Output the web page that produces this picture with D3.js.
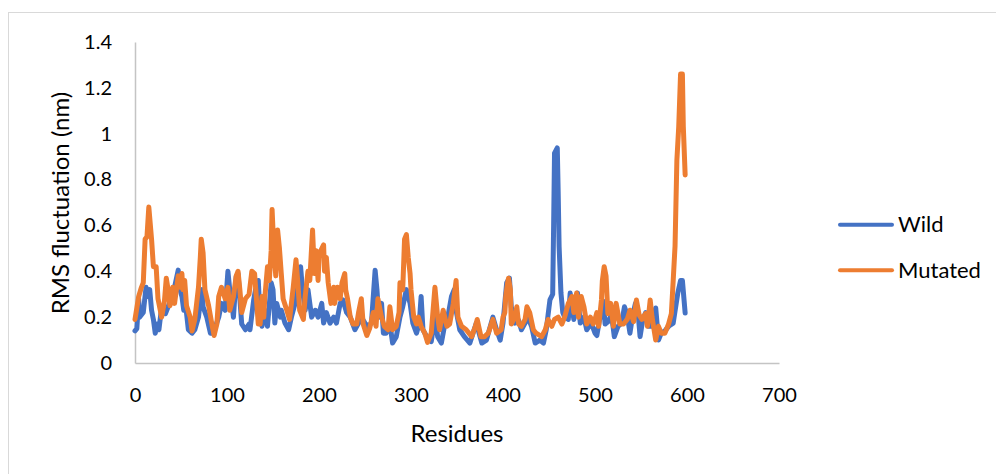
<!DOCTYPE html>
<html>
<head>
<meta charset="utf-8">
<script src="https://cdn.jsdelivr.net/npm/d3@7"></script>
<style>
  html, body { margin: 0; padding: 0; background: #ffffff; }
  svg { display: block; }
  text { font-family: Lato, "Open Sans", sans-serif; fill: #000; }
</style>
</head>
<body>
<svg id="chart" width="996" height="474"></svg>
<script>
// Per-residue RMS fluctuation (nm) of the wild-type and mutated protein
const wildResidues = [0,2,4,5,9,12,14,16,18,20,22,24,26,29,33,36,40,43,47,49,51,53,54,58,62,65,69,71,73,74,78,82,85,91,94,98,101,103,105,107,109,110,112,116,120,124,125,129,131,134,136,138,141,144,148,150,152,154,156,158,159,163,167,170,174,176,178,180,182,185,188,192,196,199,203,205,208,212,216,219,223,226,230,234,239,243,246,250,253,257,261,263,265,268,270,273,277,280,284,288,291,295,299,302,306,309,311,313,317,322,326,329,333,337,340,344,347,349,353,358,364,371,377,382,389,393,397,400,404,407,409,413,417,420,424,427,431,435,440,444,447,451,454,455,456,459,460,461,463,465,467,471,473,477,481,484,488,491,496,500,502,505,507,509,511,514,518,521,525,529,532,535,538,541,544,547,549,552,555,558,562,566,569,572,576,580,585,590,593,595,598];
const wildRMSF = [0.14,0.15,0.28,0.20,0.22,0.33,0.29,0.32,0.23,0.19,0.13,0.17,0.145,0.245,0.215,0.245,0.29,0.33,0.405,0.32,0.29,0.23,0.29,0.145,0.13,0.145,0.20,0.275,0.32,0.245,0.20,0.13,0.13,0.20,0.26,0.23,0.40,0.32,0.275,0.20,0.32,0.376,0.39,0.17,0.145,0.17,0.145,0.275,0.32,0.36,0.20,0.16,0.23,0.16,0.35,0.32,0.174,0.26,0.23,0.20,0.23,0.174,0.145,0.20,0.26,0.32,0.36,0.42,0.32,0.23,0.32,0.20,0.23,0.20,0.26,0.174,0.22,0.174,0.20,0.174,0.26,0.275,0.22,0.20,0.145,0.174,0.20,0.174,0.16,0.174,0.405,0.32,0.20,0.26,0.13,0.13,0.174,0.087,0.115,0.20,0.245,0.32,0.26,0.174,0.13,0.174,0.29,0.145,0.115,0.093,0.20,0.115,0.087,0.174,0.20,0.29,0.32,0.23,0.145,0.115,0.087,0.174,0.087,0.10,0.20,0.145,0.10,0.174,0.35,0.37,0.245,0.174,0.186,0.145,0.174,0.20,0.16,0.087,0.10,0.087,0.145,0.275,0.30,0.59,0.915,0.938,0.74,0.507,0.305,0.22,0.20,0.19,0.305,0.19,0.305,0.174,0.20,0.145,0.174,0.13,0.12,0.19,0.23,0.27,0.17,0.18,0.21,0.115,0.16,0.175,0.245,0.21,0.13,0.21,0.26,0.21,0.115,0.19,0.22,0.16,0.16,0.24,0.10,0.13,0.14,0.16,0.174,0.305,0.36,0.36,0.218];

const mutResidues = [0,4,7,9,11,13,15,18,20,23,25,29,32,34,36,38,41,43,47,49,51,52,54,56,60,62,65,69,71,72,74,76,80,84,86,89,91,94,98,101,103,107,110,112,114,116,120,124,127,130,132,134,136,138,140,141,144,146,148,149,151,153,155,157,159,161,165,168,172,175,177,179,183,185,188,190,193,195,197,199,200,202,205,206,208,210,213,216,217,220,223,225,228,229,231,234,237,241,243,246,248,252,255,259,262,264,268,271,275,277,280,284,287,288,291,293,295,297,299,300,303,306,308,311,315,318,322,326,329,331,335,339,342,346,349,351,355,360,366,370,372,376,380,384,389,393,398,400,402,403,405,406,408,409,413,415,417,420,424,426,429,433,436,442,446,449,453,456,460,464,467,471,475,477,480,482,485,488,491,495,498,500,502,504,507,508,510,512,514,517,520,523,527,531,535,538,542,545,548,551,555,557,560,562,566,569,572,576,580,583,585,587,589,591,593,595,596,598];
const mutRMSF = [0.19,0.29,0.33,0.35,0.54,0.55,0.68,0.54,0.42,0.42,0.28,0.20,0.27,0.37,0.32,0.25,0.33,0.26,0.38,0.33,0.39,0.32,0.36,0.25,0.20,0.14,0.19,0.33,0.46,0.54,0.48,0.32,0.25,0.16,0.12,0.17,0.29,0.33,0.28,0.33,0.23,0.29,0.38,0.40,0.32,0.22,0.28,0.30,0.40,0.39,0.28,0.17,0.17,0.29,0.20,0.28,0.42,0.36,0.49,0.67,0.49,0.38,0.58,0.50,0.39,0.28,0.23,0.19,0.33,0.45,0.35,0.23,0.19,0.29,0.40,0.36,0.58,0.39,0.49,0.36,0.46,0.49,0.515,0.40,0.46,0.35,0.26,0.33,0.26,0.33,0.28,0.35,0.39,0.32,0.28,0.20,0.17,0.17,0.22,0.28,0.17,0.12,0.15,0.22,0.16,0.28,0.20,0.16,0.145,0.245,0.145,0.16,0.22,0.35,0.32,0.54,0.56,0.46,0.39,0.32,0.20,0.17,0.20,0.16,0.13,0.09,0.13,0.33,0.20,0.145,0.23,0.16,0.17,0.26,0.36,0.20,0.16,0.145,0.115,0.16,0.19,0.115,0.115,0.13,0.19,0.13,0.145,0.20,0.22,0.29,0.35,0.37,0.32,0.17,0.20,0.245,0.17,0.16,0.19,0.245,0.22,0.145,0.13,0.115,0.145,0.19,0.16,0.19,0.20,0.17,0.20,0.26,0.29,0.22,0.305,0.20,0.29,0.245,0.17,0.20,0.17,0.19,0.22,0.16,0.275,0.36,0.42,0.38,0.215,0.26,0.16,0.26,0.17,0.17,0.19,0.23,0.18,0.275,0.21,0.19,0.215,0.16,0.275,0.20,0.10,0.16,0.13,0.13,0.17,0.215,0.36,0.51,0.885,1.03,1.26,1.26,1.03,0.82];

const xTicks = [0, 100, 200, 300, 400, 500, 600, 700];
const yTicks = [0, 0.2, 0.4, 0.6, 0.8, 1, 1.2, 1.4];
const seriesNames = ["Wild", "Mutated"];
const seriesColors = ["#4472C4", "#ED7D31"];

const svg = d3.select("#chart");

// chart-area frame
svg.append("rect")
  .attr("x", 8.5).attr("y", 12.5)
  .attr("width", 1000).attr("height", 480)
  .attr("fill", "#fff").attr("stroke", "#d9d9d9").attr("stroke-width", 1);

const x = d3.scaleLinear().domain([0, 700]).range([135, 779]);
const y = d3.scaleLinear().domain([0, 1.4]).range([363, 42]);

// y axis
const yAxis = svg.append("g").attr("transform", "translate(135,0)")
  .call(d3.axisLeft(y).tickValues(yTicks).tickSize(0).tickPadding(23)
    .tickFormat(d => String(+d.toFixed(1))));
yAxis.select(".domain").attr("stroke", "#c4c4c4").attr("stroke-width", 1.5);
yAxis.selectAll("text").attr("font-size", 20).attr("font-family", "Lato").attr("fill", "#000");

// x axis
const xAxis = svg.append("g").attr("transform", "translate(0,363)")
  .call(d3.axisBottom(x).tickValues(xTicks).tickSize(0).tickPadding(25)
    .tickFormat(d3.format("d")));
xAxis.select(".domain").attr("stroke", "#c4c4c4").attr("stroke-width", 1.5);
xAxis.selectAll("text").attr("font-size", 20).attr("font-family", "Lato").attr("fill", "#000");

// axis titles
svg.append("text")
  .attr("transform", "translate(69,203) rotate(-90)")
  .attr("text-anchor", "middle")
  .attr("font-size", 24)
  .text("RMS fluctuation (nm)");

svg.append("text")
  .attr("x", 457).attr("y", 442)
  .attr("text-anchor", "middle")
  .attr("font-size", 24)
  .text("Residues");

// series lines
const line = d3.line().x(d => x(d[0])).y(d => y(d[1]));
const series = [
  d3.zip(wildResidues, wildRMSF),
  d3.zip(mutResidues, mutRMSF)
];
series.forEach((pts, i) => {
  svg.append("path")
    .datum(pts)
    .attr("d", line)
    .attr("fill", "none")
    .attr("stroke", seriesColors[i])
    .attr("stroke-width", 5)
    .attr("stroke-linejoin", "round")
    .attr("stroke-linecap", "round");
});

// legend
const legend = svg.append("g");
seriesNames.forEach((name, i) => {
  const ly = 224.7 + i * 45.5;
  legend.append("line")
    .attr("x1", 840).attr("x2", 892)
    .attr("y1", ly).attr("y2", ly)
    .attr("stroke", seriesColors[i])
    .attr("stroke-width", 4)
    .attr("stroke-linecap", "round");
  legend.append("text")
    .attr("x", 898).attr("y", ly + 7.5)
    .attr("font-size", 22)
    .text(name);
});
</script>
</body>
</html>
